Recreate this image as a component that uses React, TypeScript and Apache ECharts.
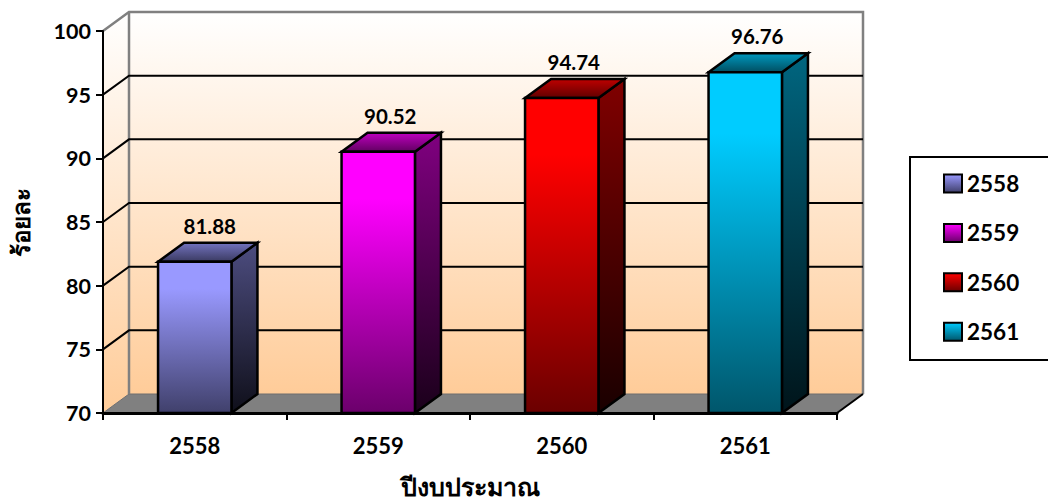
import React, { useEffect, useRef } from "react";
import * as echarts from "echarts";

const categories = ["2558", "2559", "2560", "2561"];
const percentages = [81.88, 90.52, 94.74, 96.76];
const barColors = [
  [153, 153, 255],
  [255, 0, 255],
  [255, 0, 0],
  [0, 204, 255],
];
const gridValues = [75, 80, 85, 90, 95];
const xTitle = "ปีงบประมาณ";
const yTitle = "ร้อยละ";

const DEPTH_X = 26;
const DEPTH_Y = -19;
const FONT = "Lato, 'Noto Sans', sans-serif";
// Horizontal shift of each value label away from its column's centre.
const LABEL_SHIFT = [15, 12, 12, 12];

const LG = echarts.graphic.LinearGradient;

const shade = (rgb: number[], k: number) =>
  `rgb(${rgb.map((c) => Math.round(c * k)).join(",")})`;

const vertical = (rgb: number[], from: number, to: number) =>
  new LG(0, 0, 0, 1, [
    { offset: 0, color: shade(rgb, from) },
    { offset: 1, color: shade(rgb, to) },
  ]);

// Front faces hold their full colour for the first stretch before darkening.
const frontFace = (rgb: number[]) =>
  new LG(0, 0, 0, 1, [
    { offset: 0, color: shade(rgb, 1) },
    { offset: 0.18, color: shade(rgb, 1) },
    { offset: 1, color: shade(rgb, 0.42) },
  ]);

const wallFill = () =>
  new LG(0, 0, 0, 1, [
    { offset: 0, color: "#ffffff" },
    { offset: 1, color: "#ffcc99" },
  ]);

// Outer plot edges in pixels, derived from the axis scales.
function plotBounds(api: any) {
  const half = api.size([1, 0])[0] / 2;
  const left = api.coord([0, 70])[0] - half;
  const right = api.coord([categories.length - 1, 70])[0] + half;
  const bottom = api.coord([0, 70])[1];
  const top = api.coord([0, 100])[1];
  return { left, right, bottom, top };
}

// Back wall, side wall and floor of the 3D box.
function renderRoom(_: any, api: any) {
  const { left, right, bottom, top } = plotBounds(api);
  return {
    type: "group",
    children: [
      {
        type: "polygon",
        shape: {
          points: [
            [left + DEPTH_X, top + DEPTH_Y],
            [right + DEPTH_X, top + DEPTH_Y],
            [right + DEPTH_X, bottom + DEPTH_Y],
            [left + DEPTH_X, bottom + DEPTH_Y],
          ],
        },
        style: { fill: wallFill() },
      },
      {
        type: "polygon",
        shape: {
          points: [
            [left, top],
            [left + DEPTH_X, top + DEPTH_Y],
            [left + DEPTH_X, bottom + DEPTH_Y],
            [left, bottom],
          ],
        },
        style: { fill: wallFill() },
      },
      {
        type: "polygon",
        shape: {
          points: [
            [left, bottom],
            [left + DEPTH_X, bottom + DEPTH_Y],
            [right + DEPTH_X, bottom + DEPTH_Y],
            [right, bottom],
          ],
        },
        style: { fill: "#808080", stroke: "#6e6e6e", lineWidth: 1 },
      },
      {
        type: "polyline",
        shape: {
          points: [
            [left, top],
            [left + DEPTH_X, top + DEPTH_Y],
            [right + DEPTH_X, top + DEPTH_Y],
            [right + DEPTH_X, bottom + DEPTH_Y],
          ],
        },
        style: { stroke: "#808080", lineWidth: 2.5, fill: "none", lineJoin: "miter" },
      },
      {
        type: "line",
        shape: {
          x1: left + DEPTH_X,
          y1: top + DEPTH_Y,
          x2: left + DEPTH_X,
          y2: bottom + DEPTH_Y,
        },
        style: { stroke: "#808080", lineWidth: 2.5 },
      },
      {
        type: "line",
        shape: {
          x1: right,
          y1: bottom,
          x2: right + DEPTH_X,
          y2: bottom + DEPTH_Y,
        },
        style: { stroke: "#000000", lineWidth: 2 },
      },
    ],
  };
}

// One gridline: up the side wall, then across the back wall.
function renderGridLine(_: any, api: any) {
  const { left, right } = plotBounds(api);
  const y = api.coord([0, api.value(1)])[1];
  return {
    type: "polyline",
    shape: {
      points: [
        [left, y],
        [left + DEPTH_X, y + DEPTH_Y],
        [right + DEPTH_X, y + DEPTH_Y],
      ],
    },
    style: { stroke: "#000000", lineWidth: 2, fill: "none" },
  };
}

// A 3D column with front, top and side faces plus its value label.
function makeColumnRenderer(rgb: number[], labelShift: number) {
  return (_: any, api: any) => {
    const value = api.value(1);
    const [cx, y1] = api.coord([api.value(0), value]);
    const y0 = api.coord([api.value(0), 70])[1];
    const w = api.size([1, 0])[0] * 0.4;
    const x0 = cx - w / 2;
    const x1 = cx + w / 2;
    const line = { stroke: "#000000", lineWidth: 2.5, lineJoin: "miter" };
    return {
      type: "group",
      children: [
        {
          type: "polygon",
          shape: {
            points: [
              [x1, y1],
              [x1 + DEPTH_X, y1 + DEPTH_Y],
              [x1 + DEPTH_X, y0 + DEPTH_Y],
              [x1, y0],
            ],
          },
          style: { ...line, fill: vertical(rgb, 0.5, 0.1) },
        },
        {
          type: "polygon",
          shape: {
            points: [
              [x0, y1],
              [x0 + DEPTH_X, y1 + DEPTH_Y],
              [x1 + DEPTH_X, y1 + DEPTH_Y],
              [x1, y1],
            ],
          },
          style: { ...line, fill: vertical(rgb, 0.75, 0.38) },
        },
        {
          type: "rect",
          shape: { x: x0, y: y1, width: w, height: y0 - y1 },
          style: { ...line, fill: frontFace(rgb) },
        },
        {
          type: "text",
          style: {
            x: cx + labelShift,
            y: y1 + DEPTH_Y - 17,
            text: value.toFixed(2),
            fill: "#000000",
            font: `bold 20.5px ${FONT}`,
            align: "center",
            verticalAlign: "middle",
          },
        },
      ],
    };
  };
}

export default function App() {
  const ref = useRef<HTMLDivElement>(null);

  useEffect(() => {
    document.body.style.margin = "0";
    const chart = echarts.init(ref.current!, undefined, { renderer: "svg" });
    const axisText = { fontFamily: FONT, fontWeight: "bold" as const, color: "#000000" };
    chart.setOption({
      animation: false,
      backgroundColor: "#ffffff",
      grid: { left: 103, right: 211, top: 31, bottom: 87, outerBoundsMode: "none" },
      xAxis: {
        type: "category",
        data: categories,
        z: 5,
        axisLine: { show: true, lineStyle: { color: "#000000", width: 3 } },
        axisTick: { show: true, length: 7, lineStyle: { color: "#000000", width: 2 } },
        axisLabel: { ...axisText, fontSize: 22, margin: 21 },
        name: xTitle,
        nameLocation: "middle",
        nameGap: 60,
        nameTextStyle: { ...axisText, fontSize: 25 },
      },
      yAxis: {
        type: "value",
        min: 70,
        max: 100,
        interval: 5,
        z: 5,
        axisLine: { show: true, lineStyle: { color: "#000000", width: 2 } },
        axisTick: { show: true, length: 7, lineStyle: { color: "#000000", width: 2 } },
        axisLabel: { ...axisText, fontSize: 21.5, margin: 12 },
        splitLine: { show: false },
        name: yTitle,
        nameLocation: "middle",
        nameGap: 71,
        nameRotate: 90,
        nameTextStyle: { ...axisText, fontSize: 24 },
      },
      legend: {
        show: true,
        orient: "vertical",
        left: 943,
        top: 172,
        padding: 0,
        itemWidth: 18,
        itemHeight: 18,
        itemGap: 26.4,
        selectedMode: false,
        textStyle: { ...axisText, fontSize: 22.5, lineHeight: 18 },
        data: categories.map((name, i) => ({
          name,
          icon: "rect",
          itemStyle: {
            color: vertical(barColors[i], 1, 0.42),
            borderColor: "#000000",
            borderWidth: 2,
          },
        })),
      },
      graphic: [
        {
          type: "rect",
          z: -1,
          shape: { x: 910, y: 157, width: 200, height: 203 },
          style: { fill: "#ffffff", stroke: "#000000", lineWidth: 2 },
        },
      ],
      series: [
        {
          type: "custom",
          name: "room",
          z: 1,
          silent: true,
          renderItem: renderRoom,
          data: [[0, 70]],
          encode: { x: 0, y: 1 },
        },
        {
          type: "custom",
          name: "grid",
          z: 2,
          silent: true,
          renderItem: renderGridLine,
          data: gridValues.map((v) => [0, v]),
          encode: { x: 0, y: 1 },
        },
        ...categories.map((name, i) => ({
          type: "custom",
          name,
          z: 3,
          renderItem: makeColumnRenderer(barColors[i], LABEL_SHIFT[i]),
          data: [[i, percentages[i]]],
          encode: { x: 0, y: 1 },
        })),
      ],
    });
    return () => chart.dispose();
  }, []);

  return <div ref={ref} style={{ width: 1048, height: 500 }} />;
}
